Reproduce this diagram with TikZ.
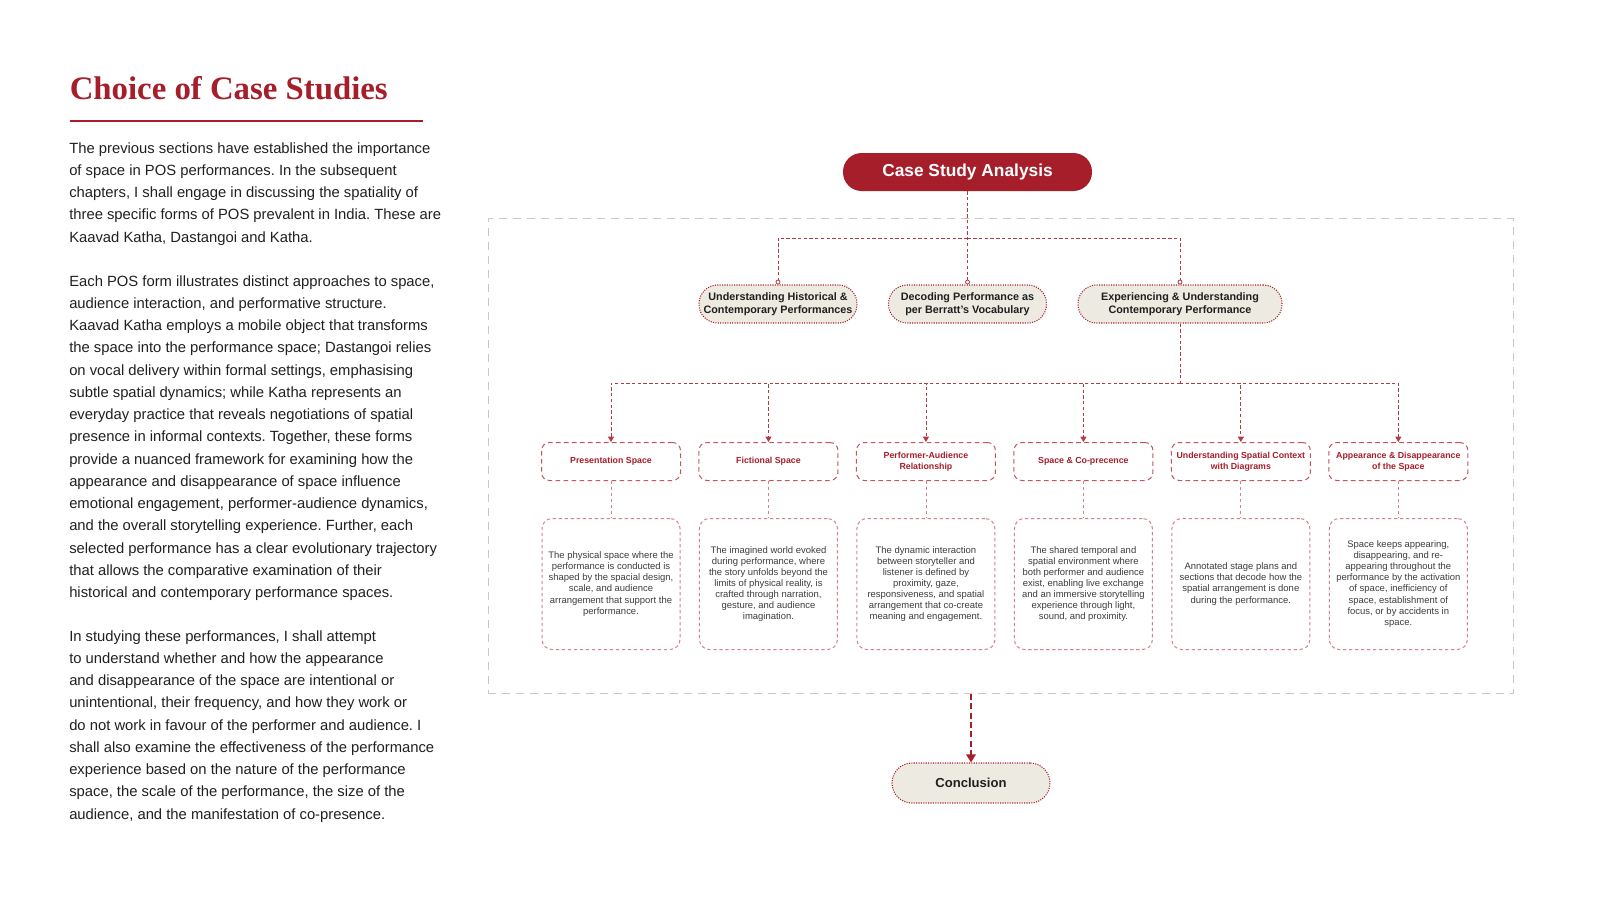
\documentclass[tikz,border=0pt]{standalone}
\usepackage{fontspec}
\setmainfont{Liberation Sans}
\newfontfamily\titlefont{Liberation Serif}
\usepackage{xcolor}
\usepackage{tikz}
\usetikzlibrary{arrows.meta, positioning}
\frenchspacing

\definecolor{casered}{RGB}{166,30,42}
\definecolor{linkred}{RGB}{178,58,70}
\definecolor{boxred}{RGB}{196,84,96}
\definecolor{pinkline}{RGB}{214,128,138}
\definecolor{beige}{RGB}{237,234,226}
\definecolor{framegrey}{RGB}{206,199,188}
\definecolor{bodytext}{RGB}{32,32,32}
\definecolor{desctext}{RGB}{62,62,62}

\begin{document}
\begin{tikzpicture}[
    x=0.75pt, y=-0.75pt,
    node distance=27.75pt and 13.1pt,
    headtext/.style={
        anchor=base west,
        inner sep=0pt,
        text=casered,
        font=\titlefont\bfseries\fontsize{24.6}{28}\selectfont
    },
    paratext/.style={
        anchor=north west,
        inner sep=0pt,
        align=left,
        text=bodytext,
        font=\fontsize{11.1}{16.7}\selectfont
    },
    root/.style={
        fill=casered,
        text=white,
        rounded corners=14pt,
        minimum width=186.75pt,
        minimum height=28.5pt,
        font=\bfseries\fontsize{13}{15}\selectfont
    },
    themebox/.style={
        draw=casered,
        densely dotted,
        line width=0.8pt,
        fill=beige,
        rounded corners=14pt,
        align=center,
        inner xsep=2pt,
        minimum width=118.5pt,
        minimum height=28.5pt,
        text=black!88,
        font=\bfseries\fontsize{8.1}{9.75}\selectfont
    },
    endbox/.style={
        themebox,
        rounded corners=15pt,
        minimum height=30pt,
        font=\bfseries\fontsize{9.8}{11}\selectfont
    },
    aspectbox/.style={
        draw=boxred,
        dash pattern=on 3.5pt off 2.5pt,
        line width=0.75pt,
        fill=white,
        rounded corners=6pt,
        align=center,
        inner xsep=2pt,
        minimum width=104.25pt,
        minimum height=28.5pt,
        text=casered,
        font=\bfseries\fontsize{6.6}{8.5}\selectfont
    },
    detailbox/.style={
        draw=pinkline,
        dash pattern=on 2.5pt off 2pt,
        line width=0.75pt,
        fill=white,
        rounded corners=7.5pt,
        align=center,
        inner xsep=2pt,
        minimum width=103.5pt,
        minimum height=98.25pt,
        text=desctext,
        font=\fontsize{7.1}{8.3}\selectfont
    },
    casebox/.style={
        draw=framegrey,
        dash pattern=on 6pt off 4.5pt,
        line width=0.75pt,
        inner sep=0pt,
        minimum width=768.75pt,
        minimum height=356.25pt
    },
    buslink/.style={draw=linkred, dash pattern=on 2.5pt off 1.8pt, line width=0.6pt},
    pinlink/.style={buslink, -{Circle[fill=white, length=3.6pt]}},
    arrowlink/.style={buslink, -{Triangle[length=4pt, width=4.5pt]}},
    stem/.style={draw=pinkline, dash pattern=on 2.5pt off 2pt, line width=0.6pt},
    mainarrow/.style={draw=casered, dash pattern=on 4.5pt off 2.5pt, line width=1.4pt,
        -{Triangle[length=6pt, width=7pt]}}
]
\useasboundingbox (0,0) rectangle (1600,901);

% left column
\node[headtext] (title) at (69.5,99) {Choice of Case Studies};
\draw[casered, line width=1.9pt] (70,121) -- (423,121);

\node[paratext] (intro) at (69,142) {The previous sections have established the importance\\
of space in POS performances. In the subsequent\\
chapters, I shall engage in discussing the spatiality of\\
three specific forms of POS prevalent in India. These are\\
Kaavad Katha, Dastangoi and Katha.};

\node[paratext] (forms) at (69,275) {Each POS form illustrates distinct approaches to space,\\
audience interaction, and performative structure.\\
Kaavad Katha employs a mobile object that transforms\\
the space into the performance space; Dastangoi relies\\
on vocal delivery within formal settings, emphasising\\
subtle spatial dynamics; while Katha represents an\\
everyday practice that reveals negotiations of spatial\\
presence in informal contexts. Together, these forms\\
provide a nuanced framework for examining how the\\
appearance and disappearance of space influence\\
emotional engagement, performer-audience dynamics,\\
and the overall storytelling experience. Further, each\\
selected performance has a clear evolutionary trajectory\\
that allows the comparative examination of their\\
historical and contemporary performance spaces.};

\node[paratext] (study) at (69,630) {In studying these performances, I shall attempt\\
to understand whether and how the appearance\\
and disappearance of the space are intentional or\\
unintentional, their frequency, and how they work or\\
do not work in favour of the performer and audience. I\\
shall also examine the effectiveness of the performance\\
experience based on the nature of the performance\\
space, the scale of the performance, the size of the\\
audience, and the manifestation of co-presence.};

% diagram
\node[casebox] (frame) at (1000.5,456) {};

\node[root] (csa) at (967.5,172) {Case Study Analysis};

\node[themebox] (hist) at (778,304) {Understanding Historical \&\\Contemporary Performances};
\node[themebox] (deco) at (967.5,304) {Decoding Performance as\\per Berratt’s Vocabulary};
\node[themebox, minimum width=153pt] (expe) at (1180,304) {Experiencing \& Understanding\\Contemporary Performance};

\node[aspectbox] (pres) at (611,461.5) {Presentation Space};
\node[aspectbox, right=of pres] (fict) {Fictional Space};
\node[aspectbox, right=of fict] (rela) {Performer-Audience\\Relationship};
\node[aspectbox, right=of rela] (copr) {Space \& Co-precence};
\node[aspectbox, right=of copr] (diag) {Understanding Spatial Context\\with Diagrams};
\node[aspectbox, right=of diag] (appe) {Appearance \& Disappearance\\of the Space};

\node[detailbox, below=of pres] (presd) {The physical space where the\\performance is conducted is\\shaped by the spacial design,\\scale, and audience\\arrangement that support the\\performance.};
\node[detailbox, below=of fict] (fictd) {The imagined world evoked\\during performance, where\\the story unfolds beyond the\\limits of physical reality, is\\crafted through narration,\\gesture, and audience\\imagination.};
\node[detailbox, below=of rela] (relad) {The dynamic interaction\\between storyteller and\\listener is defined by\\proximity, gaze,\\responsiveness, and spatial\\arrangement that co-create\\meaning and engagement.};
\node[detailbox, below=of copr] (coprd) {The shared temporal and\\spatial environment where\\both performer and audience\\exist, enabling live exchange\\and an immersive storytelling\\experience through light,\\sound, and proximity.};
\node[detailbox, below=of diag] (diagd) {Annotated stage plans and\\sections that decode how the\\spatial arrangement is done\\during the performance.};
\node[detailbox, below=of appe] (apped) {Space keeps appearing,\\disappearing, and re-\\appearing throughout the\\performance by the activation\\of space, inefficiency of\\space, establishment of\\focus, or by accidents in\\space.};

\node[endbox] (concl) at (971,783) {Conclusion};

\coordinate (bus1) at (967.5,238);
\coordinate (bus2) at (1180,383);

\draw[pinlink] (csa.south) -- (deco.north);
\draw[pinlink] (bus1) -| (hist.north);
\draw[pinlink] (bus1) -| (expe.north);

\draw[buslink] (expe.south) -- (bus2);
\draw[arrowlink] (bus2) -| (pres.north);
\draw[arrowlink] (bus2) -| (fict.north);
\draw[arrowlink] (bus2) -| (rela.north);
\draw[arrowlink] (bus2) -| (copr.north);
\draw[arrowlink] (bus2) -| (diag.north);
\draw[arrowlink] (bus2) -| (appe.north);

\draw[stem] (pres) -- (presd);
\draw[stem] (fict) -- (fictd);
\draw[stem] (rela) -- (relad);
\draw[stem] (copr) -- (coprd);
\draw[stem] (diag) -- (diagd);
\draw[stem] (appe) -- (apped);

\draw[mainarrow] (frame.south -| concl.north) -- (concl.north);

\end{tikzpicture}
\end{document}
